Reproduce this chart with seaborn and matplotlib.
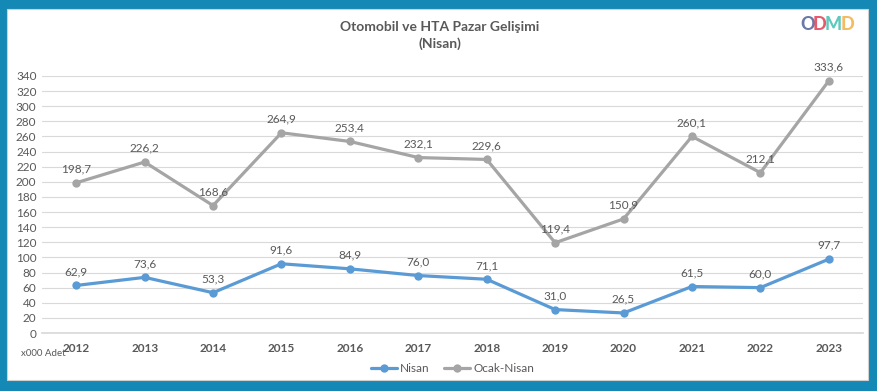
import pandas as pd
import seaborn as sns
import matplotlib.pyplot as plt
from matplotlib.patches import Rectangle

# Data
years = [2012, 2013, 2014, 2015, 2016, 2017, 2018, 2019, 2020, 2021, 2022, 2023]
nisan = [62.9, 73.6, 53.3, 91.6, 84.9, 76.0, 71.1, 31.0, 26.5, 61.5, 60.0, 97.7]
ocak_nisan = [198.7, 226.2, 168.6, 264.9, 253.4, 232.1, 229.6, 119.4, 150.9, 260.1, 212.1, 333.6]

df = pd.DataFrame({"Yil": years * 2,
                   "Deger": nisan + ocak_nisan,
                   "Seri": ["Nisan"] * len(years) + ["Ocak-Nisan"] * len(years)})

sns.set_theme(style="white")
plt.rcParams["font.family"] = ["Lato", "DejaVu Sans"]

blue = "#5B9BD5"
grey = "#A5A5A5"
txt = "#595959"

fig = plt.figure(figsize=(8.78, 3.91), dpi=100)
fig.patch.set_facecolor("#1589B5")
# white panel
fig.patches.append(Rectangle((7 / 878, 1 - 380 / 391), 861 / 878, 371 / 391,
                             transform=fig.transFigure, facecolor="white",
                             edgecolor="#D0D0D0", lw=0.8, zorder=-10))

ax = fig.add_axes([42 / 878, 1 - 333 / 391, 821 / 878, 257 / 391])
ax.set_facecolor("none")

sns.lineplot(data=df, x="Yil", y="Deger", hue="Seri", palette=[blue, grey],
             marker="o", markersize=6, markeredgewidth=0, linewidth=2.3, ax=ax)

for series, color in [(nisan, blue), (ocak_nisan, grey)]:
    for x, v in zip(years, series):
        ax.annotate(f"{v:.1f}".replace(".", ","), (x, v), xytext=(0, 6),
                    textcoords="offset points", ha="center", va="bottom",
                    fontsize=8.5, color=txt)

ax.set_xlim(2011.5, 2023.5)
ax.set_ylim(0, 340)
ax.set_yticks(range(0, 341, 20))
ax.set_xticks(years)
ax.set_xticks([y + 0.5 for y in years[:-1]] + [2011.5], minor=True)
ax.tick_params(axis="x", which="major", length=0, pad=7, labelsize=8.5,
               labelcolor=txt)
ax.tick_params(axis="x", which="minor", length=4, color="#D9D9D9", width=0.8)
ax.tick_params(axis="y", length=0, pad=4, labelsize=8.5, labelcolor=txt)
for lbl in ax.get_xticklabels():
    lbl.set_fontweight("bold")
ax.grid(axis="y", color="#D9D9D9", linewidth=0.8)
ax.set_axisbelow(True)
for s in ["top", "right", "left"]:
    ax.spines[s].set_visible(False)
ax.spines["bottom"].set_color("#D9D9D9")
ax.set_xlabel("")
ax.set_ylabel("")

leg = ax.legend(loc="upper center", bbox_to_anchor=(0.5, -0.075), ncol=2,
                frameon=False, fontsize=8.5, handlelength=2.2,
                columnspacing=1.2, handletextpad=0.3)
for t in leg.get_texts():
    t.set_color(txt)

fig.text(21 / 878, 1 - 353 / 391, "x000 Adet", fontsize=7, color=txt,
         va="center", ha="left")
fig.text(440 / 878, 1 - 27 / 391, "Otomobil ve HTA Pazar Gelişimi",
         fontsize=10, fontweight="bold", color=txt, ha="center", va="center")
fig.text(440 / 878, 1 - 44 / 391, "(Nisan)",
         fontsize=10, fontweight="bold", color=txt, ha="center", va="center")

# logo
logo_x = 800
for ch, c, dx in [("O", "#5A6AA0", 0), ("D", "#E5485E", 13), ("M", "#4CC3B5", 25), ("D", "#F2B552", 41)]:
    fig.text((logo_x + dx) / 878, 1 - 24 / 391, ch, fontsize=13, fontweight="black",
             color=c, ha="left", va="center", alpha=0.9)

fig.savefig("out.png", dpi=100, facecolor=fig.get_facecolor())
